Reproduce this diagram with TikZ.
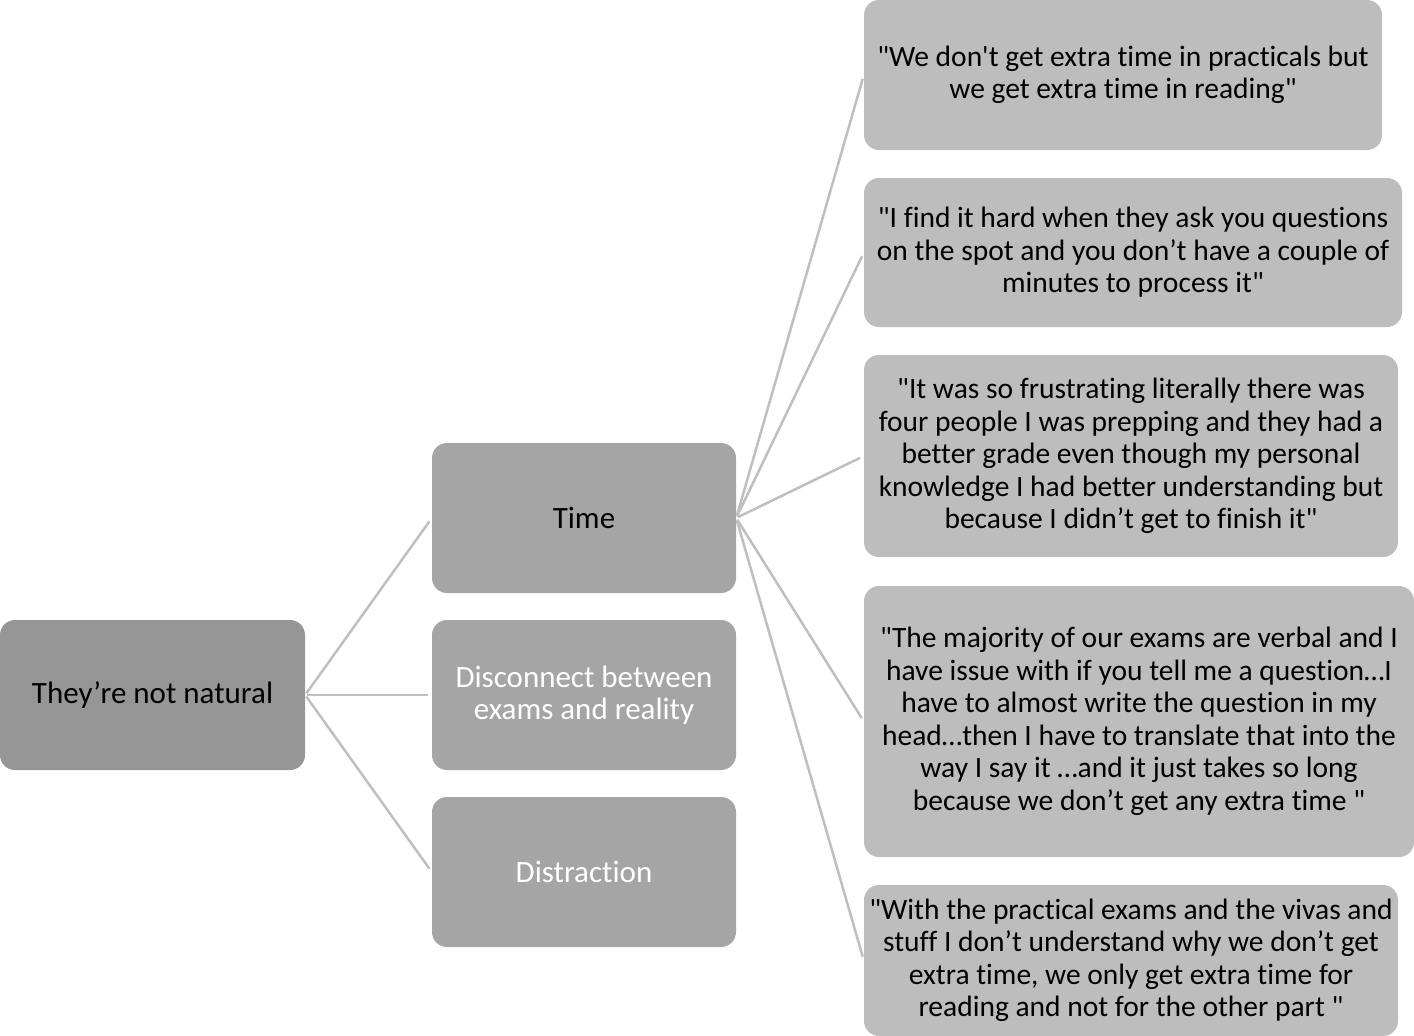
\documentclass[tikz,border=0pt]{standalone}
\usepackage{fontspec}
\setmainfont{Carlito}[Ligatures={TeX,NoCommon}]
\usepackage{tikz}
\usetikzlibrary{positioning}
\definecolor{rootgray}{HTML}{969696}
\definecolor{midgray}{HTML}{A5A5A5}
\definecolor{quotegray}{HTML}{BDBDBD}
\definecolor{linegray}{HTML}{BFBFBF}
\newcommand{\dq}{\textquotedbl}
\tikzset{
    x=1pt, y=-1pt,
    box/.style={
        rectangle,
        rounded corners=15pt,
        inner sep=0pt,
        align=center,
        font=\fontsize{31}{32.5}\selectfont
    },
    rootbox/.style={box, fill=rootgray, minimum width=305pt, minimum height=150pt},
    themebox/.style={box, fill=midgray, minimum width=304pt, minimum height=150pt},
    quotebox/.style={box, fill=quotegray, font=\fontsize{29.5}{32.5}\selectfont},
    link/.style={draw=linegray, line width=2.5pt, shorten <=2pt, shorten >=4pt},
}

\begin{document}
\begin{tikzpicture}
    \useasboundingbox (0,0) rectangle (1414,1036);

    \node[rootbox]              (root)  at (152.5,695) {They’re not natural};
    \node[themebox]             (time)  at (584,518)   {Time};
    \node[themebox, text=white] (disc)  at (584,695)   {Disconnect between\\exams and reality};
    \node[themebox, text=white] (distr) at (584,872)   {Distraction};

    \node[quotebox, minimum width=518pt, minimum height=150pt] (q1) at (1123,75)
        {\dq We don\textquotesingle t get extra time in practicals but\\we get extra time in reading\dq};
    \node[quotebox, minimum width=538pt, minimum height=149pt] (q2) at (1133,252.5)
        {\dq I find it hard when they ask you questions\\on the spot and you don’t have a couple of\\minutes to process it\dq};
    \node[quotebox, minimum width=534pt, minimum height=202pt] (q3) at (1131,456)
        {\dq It was so frustrating literally there was\\four people I was prepping and they had a\\better grade even though my personal\\knowledge I had better understanding but\\because I didn’t get to finish it\dq};
    \node[quotebox, minimum width=550pt, minimum height=271pt] (q4) at (1139,721.5)
        {\dq The majority of our exams are verbal and I\\have issue with if you tell me a question…I\\have to almost write the question in my\\head…then I have to translate that into the\\way I say it …and it just takes so long\\because we don’t get any extra time \dq};
    \node[quotebox, minimum width=534pt, minimum height=151pt] (q5) at (1131,960.5)
        {\dq With the practical exams and the vivas and\\stuff I don’t understand why we don’t get\\extra time, we only get extra time for\\reading and not for the other part \dq};

    \foreach \t in {time, disc, distr}
        \draw[link] (root.east) -- (\t.west);
    \foreach \q in {q1, q2, q3, q4, q5}
        \draw[link] (time.east) -- (\q.west);
\end{tikzpicture}
\end{document}
